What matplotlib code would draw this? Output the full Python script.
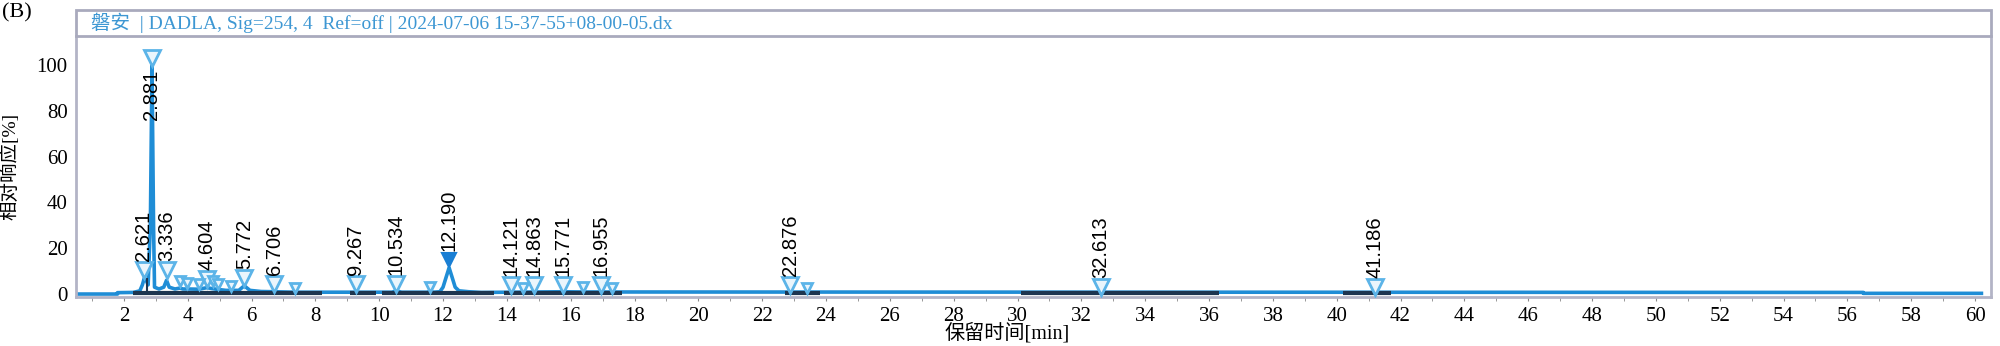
import numpy as np
import matplotlib.pyplot as plt
from matplotlib.patches import Rectangle

# chromatogram trace vertices (min, response %)
trace_t = [0.5, 1.8, 1.8, 2.3, 2.5, 2.58, 2.64, 2.7, 2.76, 2.83, 2.881, 2.93, 2.96,
           3.1, 3.25, 3.336, 3.42, 3.6, 3.75, 3.85, 4.0, 4.35, 4.604, 4.75, 4.95,
           5.2, 5.6, 5.772, 5.95, 6.3, 6.706, 7.35, 9.267, 10.4, 10.534, 10.7, 11.5,
           11.6, 11.7, 11.9, 12.0, 12.1, 12.19, 12.28, 12.38, 12.5, 12.8, 13.2,
           14.121, 15.771, 16.4, 56.5, 56.5, 60.2]
trace_y = [0.0, 0.0, 0.6, 0.7, 1.4, 4.0, 7.0, 6.0, 4.0, 30.0, 100.0, 30.0, 3.0,
           2.2, 3.0, 6.0, 3.0, 2.2, 2.6, 2.2, 2.2, 2.1, 2.8, 2.4, 2.0,
           1.6, 1.6, 3.6, 1.6, 1.1, 1.0, 0.8, 0.8, 0.8, 1.4, 0.8, 0.8,
           1.2, 0.8, 1.0, 3.0, 7.5, 11.5, 7.5, 3.0, 1.4, 1.0, 0.7,
           0.8, 1.0, 0.9, 0.7, 0.3, 0.3]

# integration baselines (dark segments)
base_start = [2.3, 9.1, 10.1, 13.9, 22.7, 30.1, 40.2]
base_end = [8.2, 9.9, 13.6, 17.6, 23.8, 36.3, 41.7]
drop_t = 2.72
drop_top = 6.5

# labelled peaks
peak_t = [2.621, 2.881, 3.336, 4.604, 5.772, 6.706, 9.267, 10.534, 12.190,
          14.121, 14.863, 15.771, 16.955, 22.876, 32.613, 41.186]
peak_mark = [10.5, 103.0, 10.5, 6.5, 7.0, 4.4, 4.2, 4.4, 15.0,
             3.8, 3.8, 3.8, 3.8, 3.8, 3.2, 3.2]
peak_txt = ['2.621', '2.881', '3.336', '4.604', '5.772', '6.706', '9.267', '10.534',
            '12.190', '14.121', '14.863', '15.771', '16.955', '22.876', '32.613', '41.186']

# small unlabelled peak markers
small_t = [3.75, 3.98, 4.35, 4.78, 4.95, 5.35, 7.35, 11.6, 14.5, 16.4, 17.3, 23.4]
small_mark = [5.5, 4.8, 4.6, 5.5, 4.6, 3.6, 2.8, 3.2, 2.8, 3.0, 2.8, 2.8]

title_txt = '磐安  | DADLA, Sig=254, 4  Ref=off | 2024-07-06 15-37-55+08-00-05.dx'

serif = ['Liberation Serif', 'Noto Sans CJK SC']
blue = '#1f8dd6'
light = '#5cb4e8'
frame = '#b3b4c6'

fig = plt.figure(figsize=(20, 3.46), dpi=100)
ax = fig.add_axes([0.038, 0.1416, 0.9575, 0.754])

ax.plot(trace_t, trace_y, color=blue, lw=2.6, zorder=2)
ax.hlines([0.6] * len(base_start), base_start, base_end, color='#1d3550', lw=3, zorder=3)
ax.plot([drop_t, drop_t], [0.6, drop_top], color='#1d3550', lw=1.5, zorder=3)

# markers
big = [t for t in peak_t if t != 12.190]
big_y = [y for t, y in zip(peak_t, peak_mark) if t != 12.190]
ax.plot(big, big_y, 'v', ms=11, mfc='#eaf5fc', mec=light, mew=2, zorder=4)
ax.plot(small_t, small_mark, 'v', ms=7, mfc='#eaf5fc', mec=light, mew=2, zorder=4)
ax.plot([12.190], [peak_mark[peak_t.index(12.190)]], 'v', ms=10, mfc='#1a7fd4',
        mec='#1a7fd4', mew=1.5, zorder=4)

for t, y, s in zip(peak_t, peak_mark, peak_txt):
    yy = 76 if s == '2.881' else y + 4
    ax.text(t, yy, s, rotation=90, ha='center', va='bottom', fontsize=14.5,
            family='Liberation Sans', zorder=5)

ax.set_xlim(0.5, 60.5)
ax.set_ylim(-1.3, 112.7)
ax.set_xticks(np.arange(2, 61, 2))
ax.set_xticks(np.arange(1, 61, 2), minor=True)
ax.set_yticks([0, 20, 40, 60, 80, 100])
for lab in ax.get_xticklabels() + ax.get_yticklabels():
    lab.set_family(serif)
    lab.set_fontsize(15)
ax.tick_params(axis='x', which='both', length=3, color='#888888', pad=4)
ax.tick_params(axis='y', length=0, pad=6)

ax.spines['top'].set_visible(False)
for sp in ['left', 'right', 'bottom']:
    ax.spines[sp].set_color(frame)
    ax.spines[sp].set_linewidth(2)

ax.set_xlabel('保留时间[min]', family=serif, fontsize=14.5, labelpad=0)
ax.xaxis.set_label_coords(0.486, -0.14)
ax.xaxis.label.set_va('center')
ax.set_ylabel('相对响应[%]', family=serif, fontsize=14, labelpad=12)

# title box above the plot
fig.patches.append(Rectangle((0.038, 0.896), 0.9575, 0.075, transform=fig.transFigure,
                             fill=False, edgecolor='#a9aabd', lw=2))
fig.text(0.0455, 0.933, title_txt, color='#3d97d3', fontsize=14, family=serif, va='center')
fig.text(0.001, 0.99, '(B)', fontsize=16, family=serif, va='top')

plt.savefig('out.png', dpi=100)
